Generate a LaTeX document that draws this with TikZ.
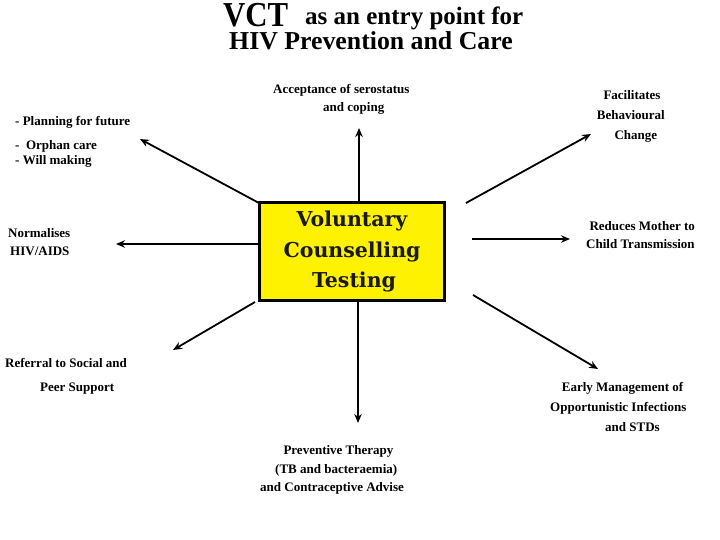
\documentclass[tikz,border=0pt]{standalone}
\usepackage{fontspec}
\setmainfont{Liberation Serif}
\newfontfamily\boxfont{DejaVu Serif}
\usetikzlibrary{arrows.meta}
\begin{document}
\begin{tikzpicture}[x=1pt,y=-1pt,
  lbl/.style={font=\fontsize{13}{14}\selectfont\bfseries, inner sep=0pt, anchor=base west},
  ttl/.style={inner sep=0pt, anchor=base west},
  boxtxt/.style={font=\boxfont\fontsize{20.5}{21}\selectfont\bfseries, text=black!90, inner sep=0pt, anchor=base},
  arr/.style={line width=1.8pt, -{Stealth[length=9pt,width=7.5pt]}},
]
\useasboundingbox (0,0) rectangle (720,540);
% title
\node[ttl, font=\fontsize{35}{35}\selectfont\bfseries] (vct) at (223,26.7) {\scalebox{0.88}[1]{VCT}};
\node[ttl, font=\fontsize{25}{25}\selectfont\bfseries] (entry) at (305,25) {as an entry point for};
\node[ttl, font=\fontsize{25.8}{26}\selectfont\bfseries] (hiv) at (229,50) {HIV Prevention and Care};
% central box
\node[draw, line width=3pt, fill=yellow, minimum width=185pt, minimum height=97pt, inner sep=0pt] (box) at (351.5,251.5) {};
\node[boxtxt] (t1) at (352,226) {Voluntary};
\node[boxtxt] (t2) at (352,258) {Counselling};
\node[boxtxt] (t3) at (354,287) {Testing};
% labels
\node[lbl] (acc1) at (273,94) {Acceptance of serostatus};
\node[lbl] (acc2) at (323,112) {and coping};
\node[lbl] (pl1) at (15,125.5) {- Planning for future};
\node[lbl] (pl2) at (15,149.3) {-\ \ Orphan care};
\node[lbl] (pl3) at (15,164.3) {- Will making};
\node[lbl] (no1) at (8,237.7) {Normalises};
\node[lbl] (no2) at (10,255.7) {HIV/AIDS};
\node[lbl] (re1) at (5,367.3) {Referral to Social and};
\node[lbl] (re2) at (40,391) {Peer Support};
\node[lbl] (pr1) at (283.3,454) {Preventive Therapy};
\node[lbl] (pr2) at (275,473.3) {(TB and bacteraemia)};
\node[lbl] (pr3) at (260,491.7) {and Contraceptive Advise};
\node[lbl] (em1) at (561.7,391.7) {Early Management of};
\node[lbl] (em2) at (550,411) {Opportunistic Infections};
\node[lbl] (em3) at (605,431.7) {and STDs};
\node[lbl] (rm1) at (589.3,230) {Reduces Mother to};
\node[lbl] (rm2) at (586,248.3) {Child Transmission};
\node[lbl] (fa1) at (603.3,100) {Facilitates};
\node[lbl] (fa2) at (596.7,120) {Behavioural};
\node[lbl] (fa3) at (614.3,139.3) {Change};
% arrow end points
\coordinate (uS) at (359,203);   \coordinate (uE) at (359,128);
\coordinate (ulS) at (259,203);  \coordinate (ulE) at (140,139);
\coordinate (lS) at (259,244);   \coordinate (lE) at (116,244);
\coordinate (dlS) at (255,302);  \coordinate (dlE) at (173,350);
\coordinate (dS) at (358,300);   \coordinate (dE) at (358,423);
\coordinate (drS) at (473,295);  \coordinate (drE) at (598,369);
\coordinate (rS) at (472,239);   \coordinate (rE) at (570,239);
\coordinate (urS) at (466,203);  \coordinate (urE) at (591,134);
\draw[arr] (uS) -- (uE);
\draw[arr] (ulS) -- (ulE);
\draw[arr] (lS) -- (lE);
\draw[arr] (dlS) -- (dlE);
\draw[arr] (dS) -- (dE);
\draw[arr] (drS) -- (drE);
\draw[arr] (rS) -- (rE);
\draw[arr] (urS) -- (urE);
\end{tikzpicture}
\end{document}
